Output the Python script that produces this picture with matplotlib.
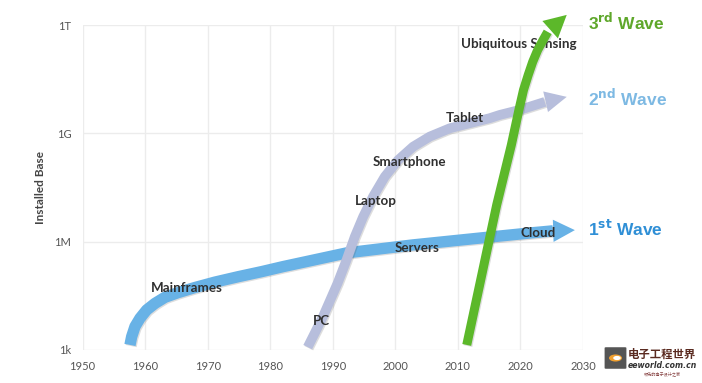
import numpy as np
import matplotlib
matplotlib.use("Agg")
import matplotlib.pyplot as plt
import matplotlib.patheffects as pe
from matplotlib.patches import FancyBboxPatch, Circle

# ---------------- data ----------------
x_ticks = [1950, 1960, 1970, 1980, 1990, 2000, 2010, 2020, 2030]
y_ticks = [1e3, 1e6, 1e9, 1e12]
y_tick_labels = ["1k", "1M", "1G", "1T"]

# 1st wave (blue) – year, log10(installed base); last point = arrow tip
wave1_year = [1957.59, 1957.86, 1958.39, 1959.19, 1960.26, 1961.58, 1963.18, 1965.30, 1967.97,
              1971.17, 1974.89, 1978.63, 1982.08, 1992.25, 2002.8, 2013.5, 2021.5, 2025.2, 2028.7]
wave1_log = [3.14, 3.37, 3.65, 3.88, 4.11, 4.29, 4.46, 4.59, 4.73,
             4.88, 5.03, 5.17, 5.31, 5.69, 5.91, 6.10, 6.24, 6.30, 6.32]

# 2nd wave (lavender)
wave2_year = [1986.0, 1988.4, 1990.8, 1992.20, 1993.53, 1994.86, 1996.45, 1998.32, 2000.45,
              2002.84, 2005.51, 2008.71, 2011.90, 2015.10, 2016.70, 2019.9, 2023.9, 2027.4]
wave2_log = [3.08, 3.91, 4.86, 5.49, 6.14, 6.69, 7.25, 7.80, 8.26,
             8.63, 8.91, 9.14, 9.28, 9.42, 9.51, 9.65, 9.87, 10.01]

# 3rd wave (green)
wave3_year = [2011.42, 2013.82, 2016.21, 2018.55, 2019.76, 2020.49, 2021.25,
              2021.96, 2022.76, 2023.64, 2024.36, 2027.40]
wave3_log = [3.14, 5.08, 7.02, 8.68, 9.65, 10.20, 10.62,
             10.98, 11.31, 11.59, 11.81, 12.28]

# category labels: text, year, log10 value
labels_text = ["Mainframes", "Servers", "Cloud", "PC", "Laptop", "Smartphone", "Tablet", "Ubiquitous Sensing"]
labels_year = [1966.7, 2003.4, 2022.8, 1988.2, 1996.9, 2002.3, 2011.1, 2019.7]
labels_log = [4.72, 5.83, 6.24, 3.80, 7.13, 8.21, 9.43, 11.48]

wave_names = [r"1$^{\mathbf{st}}$ Wave", r"2$^{\mathbf{nd}}$ Wave", r"3$^{\mathbf{rd}}$ Wave"]
wave_label_log = [6.35, 9.98, 12.09]

# ---------------- styling ----------------
W, H = 702, 383
fig = plt.figure(figsize=(W / 100, H / 100), dpi=100)
ax = fig.add_axes([82.5 / W, 1 - 350 / H, (583 - 82.5) / W, (350 - 25) / H])
ax.set_xlim(1950, 2030)
ax.set_yscale("log")
ax.set_ylim(1e3, 1e12)
for s in ax.spines.values():
    s.set_visible(False)
ax.set_xticks(x_ticks)
ax.set_xticklabels([str(t) for t in x_ticks])
ax.set_yticks(y_ticks)
ax.set_yticklabels(y_tick_labels)
ax.minorticks_off()
ax.tick_params(length=0, labelsize=8, colors="#555555", pad=8)
for lab in ax.get_xticklabels() + ax.get_yticklabels():
    lab.set_family("Lato")
ax.grid(True, color="#ececec", lw=1.0)
ax.set_axisbelow(True)
ax.set_ylabel("Installed Base", fontsize=8.5, fontweight="bold", color="#444444",
              family="Lato", labelpad=6)

shadow = [pe.SimpleLineShadow(offset=(0.8, -0.8), alpha=0.18, shadow_color="#444444"), pe.Normal()]

def wave(years, logs, color, lw, head_w, head_l, z):
    yv = 10 ** np.array(logs)
    ax.plot(years[:-1], yv[:-1], color=color, lw=lw, solid_capstyle="butt",
            solid_joinstyle="round", clip_on=False, path_effects=shadow, zorder=z)
    ax.annotate("", xy=(years[-1], yv[-1]), xytext=(years[-2], yv[-2]),
                arrowprops=dict(arrowstyle=f"-|>,head_length={head_l},head_width={head_w}",
                                mutation_scale=20, lw=0, fc=color, ec=color,
                                shrinkA=0, shrinkB=0),
                annotation_clip=False, zorder=z)

wave(wave1_year, wave1_log, "#68b2e6", 8.2, 0.40, 0.78, 3)
wave(wave2_year, wave2_log, "#b7bedc", 7.0, 0.38, 0.78, 3)
wave(wave3_year, wave3_log, "#5cb82a", 6.5, 0.42, 0.80, 6)

for t, xx, ll in zip(labels_text, labels_year, labels_log):
    ax.text(xx, 10 ** ll, t, ha="center", va="center", fontsize=9.6, fontweight="bold",
            color="#2f2f2f", family="Lato", zorder=5)

wave_colors = ["#2f8fd6", "#7db9e3", "#5ea72a"]
for name, ll, c in zip(wave_names, wave_label_log, wave_colors):
    ax.text(2030.8, 10 ** ll, name, ha="left", va="center", fontsize=12.5, fontweight="bold",
            color=c, family="Liberation Sans", clip_on=False)

# ---------------- watermark ----------------
fig.patches.append(FancyBboxPatch((606 / W, 1 - 368 / H), 19 / W, 20 / H,
                                  boxstyle="round,pad=0.002", transform=fig.transFigure,
                                  fc="#555555", ec="none"))
fig.patches.append(Circle((615.5 / W, 1 - 358 / H), 6.5 / W, transform=fig.transFigure,
                          fc="#f0a030", ec="none"))
fig.patches.append(Circle((617 / W, 1 - 358 / H), 3.8 / W, transform=fig.transFigure,
                          fc="white", ec="none"))
fig.text(628 / W, 1 - 354 / H, "电子工程世界", fontsize=8.2, fontweight="bold",
         color="#5a2a20", family=["Noto Sans CJK SC", "DejaVu Sans"], va="center", ha="left")
fig.text(628 / W, 1 - 366 / H, "eeworld.com.cn", fontsize=5.6, style="italic", fontweight="bold",
         color="#333333", family="DejaVu Sans", va="center", ha="left")
fig.text(662 / W, 1 - 374 / H, "领先的电子设计之家", fontsize=3, color="#884444",
         family=["Noto Sans CJK SC", "DejaVu Sans"], va="center", ha="center")

fig.savefig("out.png", dpi=100)
